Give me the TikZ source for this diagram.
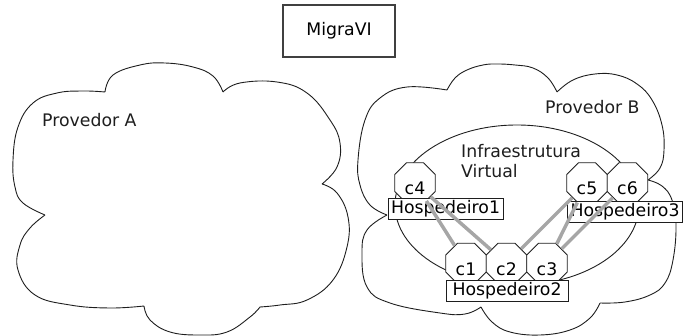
\documentclass[tikz,border=0pt]{standalone}
\usepackage{fontspec}
\setmainfont{DejaVu Sans}
\usetikzlibrary{shapes.geometric}
\definecolor{linkgray}{RGB}{166,166,166}
\definecolor{ink}{RGB}{30,30,30}
\tikzset{
  fnt/.style={font=\fontsize{17.3}{20.5}\selectfont},
  txt/.style={fnt, inner sep=0pt, text=ink},
  oct/.style={regular polygon, regular polygon sides=8, minimum size=44pt,
    draw=ink, line width=0.8pt, fill=white, inner sep=0pt, fnt,
    text height=24pt, text depth=0pt},
  host/.style={draw=ink, line width=0.8pt, fill=white, inner sep=1.5pt, fnt,
    minimum height=21pt},
  titlebox/.style={draw=ink!85, line width=1.6pt, fnt, minimum width=112pt,
    minimum height=52pt, inner sep=0pt},
  link/.style={draw=linkgray, line width=3.5pt},
  cloudline/.style={draw=ink, line width=0.9pt},
}
\begin{document}
\begin{tikzpicture}[x=1pt,y=-1pt]
\useasboundingbox (0,0) rectangle (696,336);

% title
\node[titlebox] (title) at (339,31) {MigraVI};

% cloud A
\draw[cloudline]
  plot[smooth,tension=0.7] coordinates {(105,92) (113,75) (140,65) (165,63) (193,67) (213,76) (223,92)}
  plot[smooth,tension=0.7] coordinates {(223,92) (240,83) (277,82) (307,93) (330,120) (340,143) (337,167) (322,184)}
  plot[smooth,tension=0.7] coordinates {(322,184) (337,193) (348,217) (347,247) (333,280) (307,300) (280,305) (260,307)}
  plot[smooth,tension=0.7] coordinates {(260,307) (250,317) (227,332) (200,335) (170,332) (150,320) (144,306)}
  plot[smooth,tension=0.7] coordinates {(144,306) (110,308) (70,305) (35,295) (18,270) (20,245) (30,228) (45,215)}
  plot[smooth,tension=0.7] coordinates {(45,215) (23,203) (15,187) (13,160) (18,127) (33,103) (57,93) (83,91) (105,92)};
\node[txt, anchor=base west] (provA) at (42,127) {Provedor A};

% cloud B
\draw[cloudline]
  plot[smooth,tension=0.7] coordinates {(447,90) (455,78) (467,70) (483,65) (497,64) (515,65) (533,68) (548,78) (557,92)}
  plot[smooth,tension=0.7] coordinates {(557,92) (573,80) (595,74) (617,75) (637,84) (652,100) (662,125) (664,150) (660,168) (648,180)}
  plot[smooth,tension=0.7] coordinates {(648,180) (662,186) (672,200) (676,225) (673,260) (665,283) (650,295) (625,302) (600,303)}
  plot[smooth,tension=0.7] coordinates {(600,303) (590,318) (570,330) (540,335) (510,332) (492,322) (481,307)}
  plot[smooth,tension=0.7] coordinates {(481,307) (465,314) (440,313) (390,303) (367,287) (362,253) (367,230) (387,215)}
  plot[smooth,tension=0.7] coordinates {(387,215) (370,205) (360,185) (358,160) (365,120) (380,98) (407,87) (447,90)};
\node[txt, anchor=base west] (provB) at (545,114) {Provedor B};

% virtual infrastructure
\draw[cloudline] (517,205) ellipse [x radius=122, y radius=80];
\node[txt, anchor=north west, align=left] (infra) at (461,144) {Infraestrutura\\Virtual};

% containers
\node[oct] (c4) at (415,183) {c4};
\node[oct] (c5) at (587,183) {c5};
\node[oct] (c6) at (627.5,183) {c6};
\node[oct] (c1) at (466,263.5) {c1};
\node[oct] (c2) at (506.5,263.5) {c2};
\node[oct] (c3) at (547,263.5) {c3};

% hosts
\node[host, minimum width=115pt] (h1) at (445.5,208.5) {Hospedeiro1};
\node[host, minimum width=115pt] (h3) at (625,211.5) {Hospedeiro3};
\node[host, minimum width=122pt] (h2) at (507,291) {Hospedeiro2};

% links
\draw[link] (c4) -- (c1);
\draw[link] (c4) -- (c2);
\draw[link] (c5) -- (c2);
\draw[link] (c5) -- (c3);
\draw[link] (c6) -- (c3);
\end{tikzpicture}
\end{document}
